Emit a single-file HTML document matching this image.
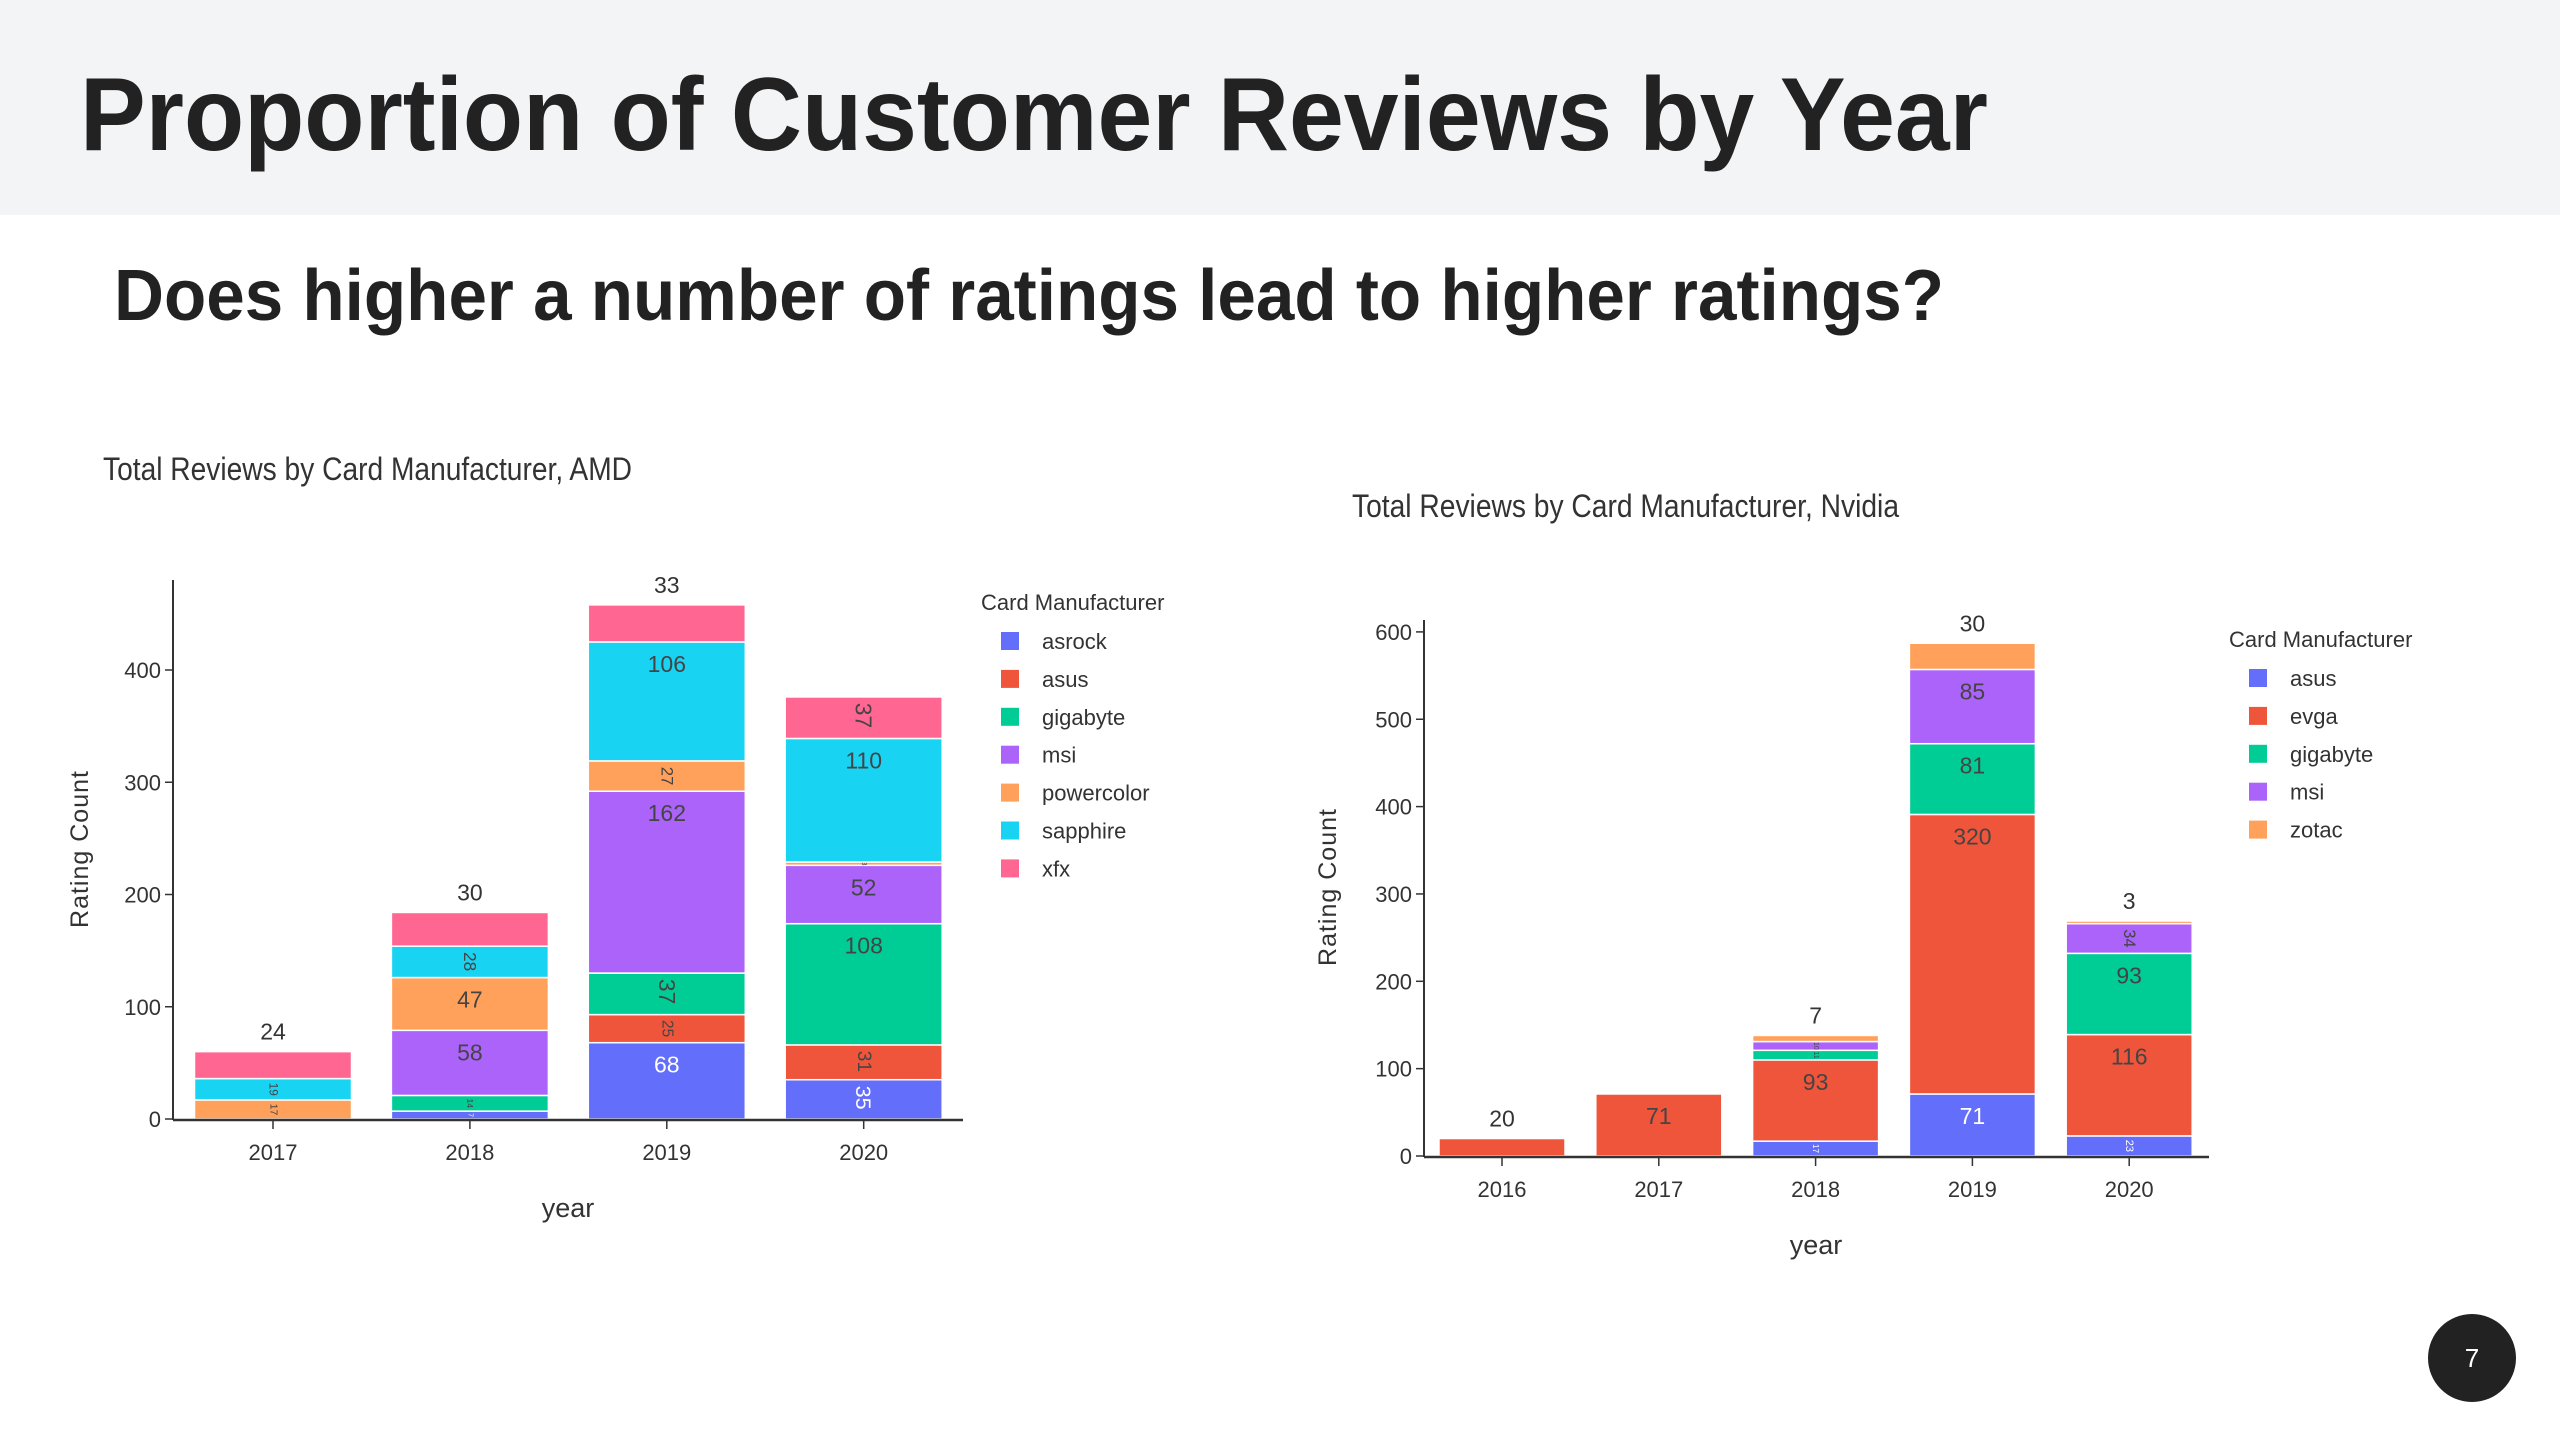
<!DOCTYPE html>
<html><head><meta charset="utf-8"><title>Proportion of Customer Reviews by Year</title>
<style>
html,body{margin:0;padding:0;background:#fff;}
svg{display:block;font-family:"Liberation Sans",sans-serif;}
</style></head>
<body>
<svg id="slide" width="2560" height="1440" viewBox="0 0 2560 1440" xmlns="http://www.w3.org/2000/svg">
  <rect x="0" y="0" width="2560" height="215" fill="#f3f4f6"/>
  <text x="80" y="150" font-size="104" font-weight="bold" fill="#222" textLength="1908" lengthAdjust="spacingAndGlyphs">Proportion of Customer Reviews by Year</text>
  <text x="114" y="320" font-size="72" font-weight="bold" fill="#222" textLength="1830" lengthAdjust="spacingAndGlyphs">Does higher a number of ratings lead to higher ratings?</text>
  <g id="amd"></g>
  <g id="nv"></g>
  <circle cx="2472" cy="1358" r="44" fill="#222"/>
  <text x="2472" y="1367" font-size="26" fill="#fff" text-anchor="middle">7</text>
</svg>
<script>
const amdYears = ["2017","2018","2019","2020"];
const amdSeries = ["asrock","asus","gigabyte","msi","powercolor","sapphire","xfx"];
const amdColors = ["#636efa","#ef553b","#00cc96","#ab63fa","#ffa15a","#19d3f3","#ff6692"];
const amdAsrock = [0,7,68,35];
const amdAsus = [0,0,25,31];
const amdGigabyte = [0,14,37,108];
const amdMsi = [0,58,162,52];
const amdPowercolor = [17,47,27,3];
const amdSapphire = [19,28,106,110];
const amdXfx = [24,30,33,37];
const amdTicks = [0,100,200,300,400];

const nvYears = ["2016","2017","2018","2019","2020"];
const nvSeries = ["asus","evga","gigabyte","msi","zotac"];
const nvColors = ["#636efa","#ef553b","#00cc96","#ab63fa","#ffa15a"];
const nvAsus = [0,0,17,71,23];
const nvEvga = [20,71,93,320,116];
const nvGigabyte = [0,0,11,81,93];
const nvMsi = [0,0,10,85,34];
const nvZotac = [0,0,7,30,3];
const nvTicks = [0,100,200,300,400,500,600];

const NS = "http://www.w3.org/2000/svg";
function mk(parent, tag, attrs, txt){
  const e = document.createElementNS(NS, tag);
  for (const k in attrs) e.setAttribute(k, attrs[k]);
  if (txt !== undefined) e.textContent = txt;
  parent.appendChild(e);
  return e;
}

function drawChart(g, cfg){
  const y = v => cfg.y0 - v * cfg.ppu;
  const x = i => cfg.x0 + cfg.step * i;
  // title
  const t = mk(g, "text", {x: cfg.titleX, y: cfg.titleY, "font-size": 32, fill: "#333", textLength: cfg.titleLen, lengthAdjust: "spacingAndGlyphs"}, cfg.title);
  
  
  // bars
  const n = cfg.cats.length;
  for (let i = 0; i < n; i++){
    let cum = 0;
    let topIdx = -1;
    cfg.data.forEach((arr, s) => { if (arr[i] > 0) topIdx = s; });
    cfg.data.forEach((arr, s) => {
      const v = arr[i];
      if (v <= 0) return;
      const yb = y(cum), yt = y(cum + v);
      const h = yb - yt;
      const r = mk(g, "rect", {x: x(i) - cfg.bw/2, y: yt, width: cfg.bw, height: h, fill: cfg.colors[s], stroke: "#fff", "stroke-width": 1.5});
      
      
      const txtCol = (s === 0) ? "#fff" : "#444";
      let lbl;
      if (s === topIdx && h < 40){
        lbl = mk(g, "text", {x: x(i), y: yt - 12, "font-size": 23, fill: "#333", "text-anchor": "middle"}, String(v));
      } else if (h >= 48){
        lbl = mk(g, "text", {x: x(i), y: yt + 30, "font-size": 23, fill: txtCol, "text-anchor": "middle"}, String(v));
      } else {
        const fs = Math.max(7, Math.min(23, h * 0.55));
        const len = String(v).length * fs * 0.55;
        const cy = yt + Math.min(h/2, len/2 + 6);
        lbl = mk(g, "text", {x: x(i), y: cy, "font-size": fs, fill: txtCol, "text-anchor": "middle", "dominant-baseline": "central", transform: "rotate(90 " + x(i) + " " + cy + ")"}, String(v));
      }
      
      
      cum += v;
    });
  }
  // axes
  const ya = mk(g, "line", {x1: cfg.ax, y1: cfg.axTop, x2: cfg.ax, y2: cfg.y0 + 1, stroke: "#333", "stroke-width": 2});
  
  
  const xa = mk(g, "line", {x1: cfg.ax, y1: cfg.y0 + 1, x2: cfg.axRight, y2: cfg.y0 + 1, stroke: "#333", "stroke-width": 2.5});
  
  
  cfg.ticks.forEach(tv => {
    const tk = mk(g, "line", {x1: cfg.ax - 8, y1: y(tv), x2: cfg.ax, y2: y(tv), stroke: "#333", "stroke-width": 1.5});
    
    
    const tl = mk(g, "text", {x: cfg.ax - 12, y: y(tv) + 8, "font-size": 22, fill: "#333", "text-anchor": "end"}, String(tv));
    
    
  });
  cfg.cats.forEach((c, i) => {
    const tk = mk(g, "line", {x1: x(i), y1: cfg.y0 + 2, x2: x(i), y2: cfg.y0 + 10, stroke: "#333", "stroke-width": 1.5});
    
    
    const tl = mk(g, "text", {x: x(i), y: cfg.y0 + 41, "font-size": 22, fill: "#333", "text-anchor": "middle"}, c);
    
    
  });
  const xt = mk(g, "text", {x: cfg.xTitleX, y: cfg.y0 + 98, "font-size": 27, fill: "#333", "text-anchor": "middle"}, "year");
  
  
  const yt2 = mk(g, "text", {x: cfg.yTitleX, y: cfg.yTitleY, "font-size": 25, fill: "#333", "text-anchor": "middle", "letter-spacing": "1", transform: "rotate(-90 " + cfg.yTitleX + " " + cfg.yTitleY + ")"}, "Rating Count");
  
  
  // legend
  const lt = mk(g, "text", {x: cfg.legX, y: cfg.legY, "font-size": 22, fill: "#333"}, "Card Manufacturer");
  
  
  cfg.series.forEach((s, k) => {
    const cy = cfg.legY + 31 + k * 37.9;
    const sw = mk(g, "rect", {x: cfg.legX + 20, y: cy - 9, width: 18, height: 18, fill: cfg.colors[k]});
    
    
    const st = mk(g, "text", {x: cfg.legX + 61, y: cy + 8, "font-size": 22, fill: "#333"}, s);
    
    
  });
}

drawChart(document.getElementById("amd"), {
  title: "Total Reviews by Card Manufacturer, AMD", titleX: 103, titleY: 480, titleLen: 529,
  cats: amdYears, series: amdSeries, colors: amdColors,
  data: [amdAsrock, amdAsus, amdGigabyte, amdMsi, amdPowercolor, amdSapphire, amdXfx],
  ticks: amdTicks, y0: 1119, ppu: 1.1225, x0: 273, step: 196.9, bw: 157,
  ax: 173, axTop: 580, axRight: 963, xTitleX: 568, yTitleX: 88, yTitleY: 849,
  legX: 981, legY: 610
});
drawChart(document.getElementById("nv"), {
  title: "Total Reviews by Card Manufacturer, Nvidia", titleX: 1352, titleY: 517, titleLen: 547,
  cats: nvYears, series: nvSeries, colors: nvColors,
  data: [nvAsus, nvEvga, nvGigabyte, nvMsi, nvZotac],
  ticks: nvTicks, y0: 1156, ppu: 0.8735, x0: 1502, step: 156.8, bw: 126,
  ax: 1424, axTop: 620, axRight: 2209, xTitleX: 1816, yTitleX: 1336, yTitleY: 887,
  legX: 2229, legY: 647
});
</script>
</body></html>
